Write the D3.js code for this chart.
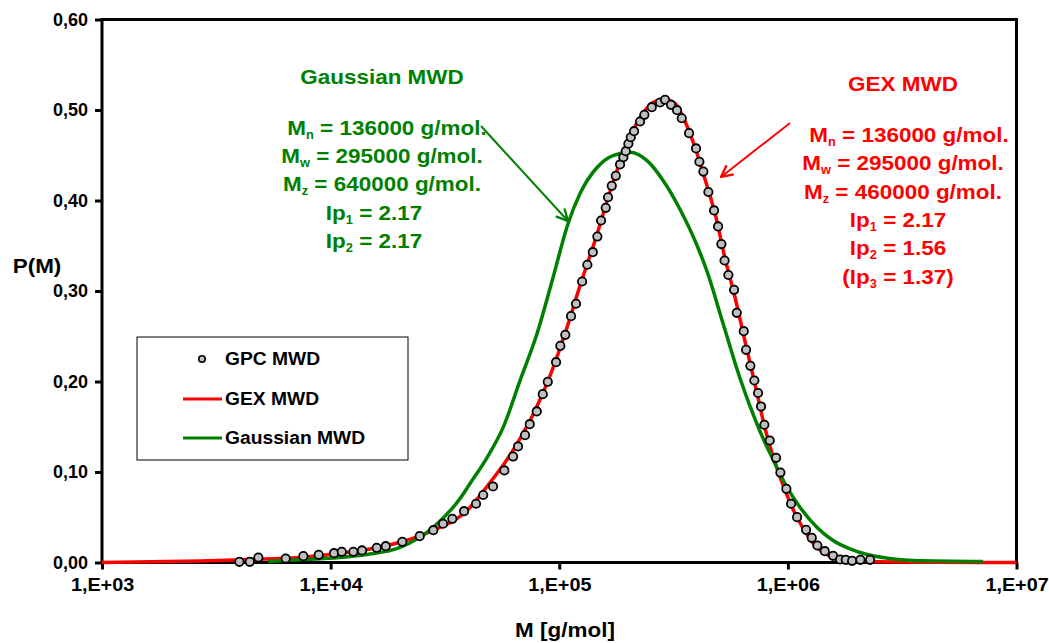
<!DOCTYPE html>
<html>
<head>
<meta charset="utf-8">
<script src="https://cdn.jsdelivr.net/npm/d3@7"></script>
<style>
  body { margin: 0; background: #fff; }
  svg { font-family: Arial, "Liberation Sans", sans-serif; font-weight: bold; }
</style>
</head>
<body>
<svg id="chart" width="1049" height="643"></svg>
<script>
// GPC measured points (M in g/mol, P(M))
var gpcM = [3990, 4430, 4830, 6360, 7600, 8870, 10350, 11190, 12570, 13720, 15910, 17420, 20580, 24530,
  28130, 31030, 34070, 38340, 43250, 46500, 51330, 57530, 62810, 66040, 70850, 74300, 79730, 84700,
  89080, 96830, 101100, 106300, 112600, 118400, 125900, 132700, 140200, 146800, 152400, 159700,
  163500, 169700, 176700, 184500, 190700, 195400, 200600, 205500, 212500, 225700, 235700, 253900,
  276000, 290300, 308300, 327500, 343400, 369700, 396700, 410200, 426900, 449000, 475600, 495200,
  511900, 528600, 549200, 581700, 597600, 641300, 656400, 685500, 713500, 740600, 763400, 789100,
  833200, 888100, 927400, 985000, 1032700, 1097000, 1201000, 1272000, 1346000, 1450000, 1577000,
  1692000, 1792000, 1910000, 2076000, 2288000];
var gpcP = [0.0008, 0.0008, 0.0055, 0.0044, 0.0070, 0.0085, 0.0103, 0.0118, 0.0118, 0.0133, 0.0162, 0.0180,
  0.0229, 0.0291, 0.0357, 0.0428, 0.0483, 0.0567, 0.0649, 0.0746, 0.0840, 0.1017, 0.1171, 0.1282,
  0.1407, 0.1528, 0.1669, 0.1860, 0.1997, 0.2213, 0.2394, 0.2516, 0.2722, 0.2859, 0.3105, 0.3290,
  0.3429, 0.3602, 0.3779, 0.3919, 0.4036, 0.4162, 0.4273, 0.4398, 0.4478, 0.4545, 0.4627, 0.4699,
  0.4766, 0.4873, 0.4947, 0.5031, 0.5083, 0.5113, 0.5057, 0.4998, 0.4909, 0.4744, 0.4575, 0.4428,
  0.4320, 0.4094, 0.3890, 0.3713, 0.3519, 0.3337, 0.3177, 0.3013, 0.2759, 0.2556, 0.2350, 0.2173,
  0.2011, 0.1873, 0.1724, 0.1522, 0.1348, 0.1157, 0.0994, 0.0814, 0.0649, 0.0501, 0.0361, 0.0273,
  0.0188, 0.0125, 0.0074, 0.0033, 0.0030, 0.0019, 0.0030, 0.0030];

// GEX fit curve
var gexM = [1000, 2685, 4440, 7350, 10240, 14430, 20120, 28050, 39530, 49800, 57930, 67360, 78370, 91180,
  106000, 123300, 143400, 166800, 194100, 225700, 262500, 290300, 321100, 355100, 392700, 434300,
  480300, 531200, 587500, 649700, 718600, 794600, 879000, 972000, 1075000, 1189000, 1315000,
  1455000, 1692000, 2070000, 3097000, 10000000];
var gexP = [0.0000, 0.0017, 0.0033, 0.0055, 0.0094, 0.0144, 0.0224, 0.0354, 0.0575, 0.0884, 0.1105, 0.1370,
  0.1680, 0.2066, 0.2530, 0.3060, 0.3558, 0.4100, 0.4575, 0.4917, 0.5094, 0.5116, 0.5072, 0.4873,
  0.4586, 0.4232, 0.3856, 0.3359, 0.2928, 0.2442, 0.1967, 0.1481, 0.1105, 0.0796, 0.0541, 0.0343,
  0.0188, 0.0099, 0.0039, 0.0017, 0.0006, 0.0000];

// Gaussian curve
var gaussM = [5322, 7350, 10240, 14430, 20120, 28050, 36820, 40740, 48330, 56780, 67360, 79980, 93960,
  109300, 123300, 146300, 171900, 204000, 242200, 284600, 337700, 400700, 443200, 520700, 618100,
  683400, 755800, 853000, 992000, 1131000, 1342000, 1577000, 1871000, 2221000, 2717000, 3530000, 7143000];
var gaussP = [0.0011, 0.0030, 0.0050, 0.0088, 0.0166, 0.0387, 0.0707, 0.0873, 0.1160, 0.1490, 0.2010, 0.2530,
  0.3150, 0.3746, 0.4077, 0.4365, 0.4497, 0.4533, 0.4440, 0.4221, 0.3901, 0.3503, 0.3215, 0.2641,
  0.2033, 0.1724, 0.1448, 0.1160, 0.0829, 0.0608, 0.0387, 0.0243, 0.0151, 0.0088, 0.0048, 0.0022, 0.0011];

var xTicks = [1e3, 1e4, 1e5, 1e6, 1e7];
var yTicks = [0, 0.1, 0.2, 0.3, 0.4, 0.5, 0.6];

var legendLabels = ["GPC MWD", "GEX MWD", "Gaussian MWD"];

// annotation text: [main, subscript, rest]
var gaussTitle = "Gaussian MWD";
var gaussLines = [["M", "n", " = 136000 g/mol."], ["M", "w", " = 295000 g/mol."], ["M", "z", " = 640000 g/mol."],
  ["Ip", "1", " = 2.17"], ["Ip", "2", " = 2.17"]];
var gexTitle = "GEX MWD";
var gexLines = [["M", "n", " = 136000 g/mol."], ["M", "w", " = 295000 g/mol."], ["M", "z", " = 460000 g/mol."],
  ["Ip", "1", " = 2.17"], ["Ip", "2", " = 1.56"], ["(Ip", "3", " = 1.37)"]];

var RED = "#ff0000", GREEN = "#008000";
var SX = 1.07; // the original text is a bit wider than Arial

var svg = d3.select("#chart");
var x0 = 102, x1 = 1016.5, yTop = 19.5, yBot = 562.5;

var x = d3.scaleLog().domain([1e3, 1e7]).range([x0, x1]);
var y = d3.scaleLinear().domain([0, 0.6]).range([yBot, yTop]);

// frame
svg.append("rect")
  .attr("x", x0).attr("y", yTop)
  .attr("width", x1 - x0).attr("height", yBot - yTop)
  .attr("fill", "none").attr("stroke", "#000").attr("stroke-width", 3);

// axes
var xAxis = svg.append("g")
  .attr("transform", "translate(0," + yBot + ")")
  .call(d3.axisBottom(x).tickValues(xTicks).tickSize(7).tickPadding(9)
    .tickFormat(function(d) { return "1,E+0" + Math.round(Math.log10(d)); }));
xAxis.select(".domain").remove();
xAxis.selectAll("line").attr("stroke-width", 3);
xAxis.selectAll("text").attr("font-size", 18).attr("font-family", "Arial, 'Liberation Sans', sans-serif")
  .attr("font-weight", "bold").attr("fill", "#000").attr("transform", "scale(1.1,1)");

var yAxis = svg.append("g")
  .attr("transform", "translate(" + x0 + ",0)")
  .call(d3.axisLeft(y).tickValues(yTicks).tickSize(7).tickPadding(7)
    .tickFormat(function(d) { return d3.format(".2f")(d).replace(".", ","); }));
yAxis.select(".domain").remove();
yAxis.selectAll("line").attr("stroke-width", 3);
yAxis.selectAll("text").attr("font-size", 18).attr("font-family", "Arial, 'Liberation Sans', sans-serif")
  .attr("font-weight", "bold").attr("fill", "#000");

// scaled text helper
function wideText(g, cx, cy, size, anchor) {
  return g.append("text")
    .attr("transform", "translate(" + cx + "," + cy + ") scale(" + SX + ",1)")
    .attr("text-anchor", anchor || "middle").attr("font-size", size);
}

// axis titles
wideText(svg, 565, 637, 21).text("M [g/mol]");
wideText(svg, 37, 273, 21).text("P(M)");

// curves
var line = d3.line()
  .x(function(d) { return x(d[0]); })
  .y(function(d) { return y(d[1]); })
  .curve(d3.curveMonotoneX);

var gexData = gexM.map(function(m, i) { return [m, gexP[i]]; });
var gaussData = gaussM.map(function(m, i) { return [m, gaussP[i]]; });
var gpcData = gpcM.map(function(m, i) { return [m, gpcP[i]]; });

svg.append("path").datum(gexData)
  .attr("fill", "none").attr("stroke", RED).attr("stroke-width", 3.5)
  .attr("stroke-linejoin", "round").attr("d", line);
svg.append("path").datum(gaussData)
  .attr("fill", "none").attr("stroke", GREEN).attr("stroke-width", 3.5)
  .attr("stroke-linejoin", "round").attr("d", line);

svg.append("g").selectAll("circle").data(gpcData).enter().append("circle")
  .attr("cx", function(d) { return x(d[0]); })
  .attr("cy", function(d) { return y(d[1]); })
  .attr("r", 4.2)
  .attr("fill", "#c0c0c0").attr("stroke", "#000").attr("stroke-width", 1.8);

// arrows
function arrowMarker(id, color) {
  svg.append("defs").append("marker")
    .attr("id", id).attr("viewBox", "0 0 12 12").attr("refX", 11).attr("refY", 6)
    .attr("markerWidth", 14).attr("markerHeight", 14).attr("markerUnits", "userSpaceOnUse")
    .attr("orient", "auto")
    .append("path").attr("d", "M1,1 L11,6 L1,11").attr("fill", "none")
    .attr("stroke", color).attr("stroke-width", 2);
}
arrowMarker("arG", GREEN);
arrowMarker("arR", RED);

svg.append("line").attr("x1", 481).attr("y1", 126).attr("x2", 568).attr("y2", 221)
  .attr("stroke", GREEN).attr("stroke-width", 2).attr("marker-end", "url(#arG)");
svg.append("line").attr("x1", 790).attr("y1", 123).attr("x2", 721).attr("y2", 177)
  .attr("stroke", RED).attr("stroke-width", 2).attr("marker-end", "url(#arR)");

// annotations
function block(cx, titleY, title, lines, shifts, firstY, step, color) {
  wideText(svg, cx, titleY, 21).attr("fill", color).text(title);
  lines.forEach(function(l, i) {
    var t = wideText(svg, cx + shifts[i], firstY + i * step, 21).attr("fill", color);
    t.append("tspan").text(l[0]);
    t.append("tspan").attr("font-size", 12).attr("dy", 4).text(l[1]);
    t.append("tspan").attr("dy", -4).text(l[2]);
  });
}
block(382, 84, gaussTitle, gaussLines, [5, 0, 0, -8, -8], 135, 28.2, GREEN);
block(903, 91, gexTitle, gexLines, [6, 0, 0, -5, -5, -5], 142, 28.3, RED);

// legend
var lg = svg.append("g");
lg.append("rect").attr("x", 137).attr("y", 337).attr("width", 271).attr("height", 123)
  .attr("fill", "#fff").attr("stroke", "#000").attr("stroke-width", 1);
var ly = [359, 399, 438];
lg.append("circle").attr("cx", 202).attr("cy", ly[0]).attr("r", 3.2)
  .attr("fill", "#c0c0c0").attr("stroke", "#000").attr("stroke-width", 1.6);
lg.append("line").attr("x1", 183).attr("x2", 222).attr("y1", ly[1]).attr("y2", ly[1])
  .attr("stroke", RED).attr("stroke-width", 3);
lg.append("line").attr("x1", 183).attr("x2", 222).attr("y1", ly[2]).attr("y2", ly[2])
  .attr("stroke", GREEN).attr("stroke-width", 3);
legendLabels.forEach(function(s, i) {
  wideText(lg, 225, ly[i] + 6, 18, "start").text(s);
});
</script>
</body>
</html>
